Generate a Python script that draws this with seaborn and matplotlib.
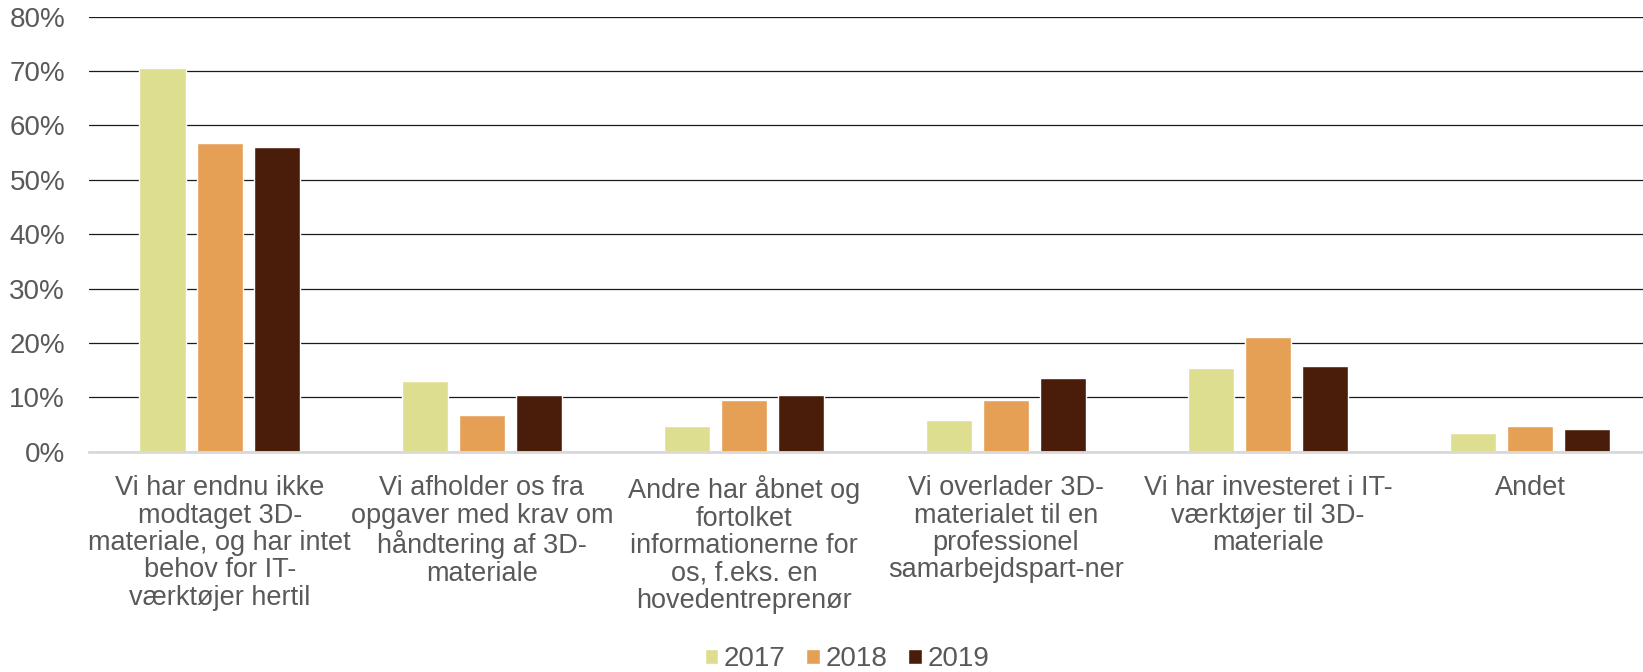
import matplotlib
matplotlib.use("Agg")
import matplotlib.pyplot as plt
from matplotlib.ticker import PercentFormatter
import pandas as pd
import seaborn as sns

# data -----------------------------------------------------------------------
categories = [
    "Vi har endnu ikke\nmodtaget 3D-\nmateriale, og har intet\nbehov for IT-\nværktøjer hertil",
    "Vi afholder os fra\nopgaver med krav om\nhåndtering af 3D-\nmateriale",
    "Andre har åbnet og\nfortolket\ninformationerne for\nos, f.eks. en\nhovedentreprenør",
    "Vi overlader 3D-\nmaterialet til en\nprofessionel\nsamarbejdspart-ner",
    "Vi har investeret i IT-\nværktøjer til 3D-\nmateriale",
    "Andet",
]
years = ["2017", "2018", "2019"]
values_2017 = [70.5, 12.9, 4.7, 5.8, 15.3, 3.4]
values_2018 = [56.7, 6.7, 9.5, 9.5, 21.0, 4.7]
values_2019 = [56.1, 10.5, 10.5, 13.5, 15.8, 4.1]
y_ticks = [0, 10, 20, 30, 40, 50, 60, 70, 80]

colors = {"2017": "#DEDE91", "2018": "#E5A056", "2019": "#4A1D0B"}

df = pd.DataFrame({
    "category": categories * 3,
    "year": [y for y in years for _ in categories],
    "value": values_2017 + values_2018 + values_2019,
})

sns.set_style("white")
plt.rcParams["font.family"] = ["Liberation Sans", "DejaVu Sans"]
text_grey = "#595959"

fig = plt.figure(figsize=(16.43, 6.72), dpi=100)
ax = fig.add_axes([0.054, 0.328, 0.957, 0.647])

sns.barplot(data=df, x="category", y="value", hue="year", order=categories,
            hue_order=years, palette=colors, width=0.654, gap=0.19,
            saturation=1, ax=ax, legend=True)

ax.set_ylim(0, 80)
ax.set_xlim(-0.5, len(categories) - 0.5)
ax.set_yticks(y_ticks)
ax.yaxis.set_major_formatter(PercentFormatter(decimals=0))
ax.set_axisbelow(True)
ax.yaxis.grid(True, color="#1a1a1a", linewidth=0.9)
ax.set_xlabel("")
ax.set_ylabel("")

for side in ["top", "right", "left"]:
    ax.spines[side].set_visible(False)
ax.spines["bottom"].set_color("#D9D9D9")
ax.spines["bottom"].set_linewidth(2)

ax.tick_params(axis="y", length=0, labelsize=20, labelcolor=text_grey, pad=17)
ax.tick_params(axis="x", length=0, labelsize=19.5, labelcolor=text_grey, pad=17)
for lbl in ax.get_xticklabels():
    lbl.set_linespacing(1.07)
    lbl.set_verticalalignment("top")

ax.get_legend().remove()
handles, labels = ax.get_legend_handles_labels()
leg = fig.legend(handles, labels, loc="center", bbox_to_anchor=(0.5155, 0.019),
                 ncol=3, frameon=False, fontsize=20, handlelength=0.49,
                 handleheight=0.49, handletextpad=0.2, columnspacing=0.75)
for t in leg.get_texts():
    t.set_color(text_grey)

fig.savefig("out.png", dpi=100)
